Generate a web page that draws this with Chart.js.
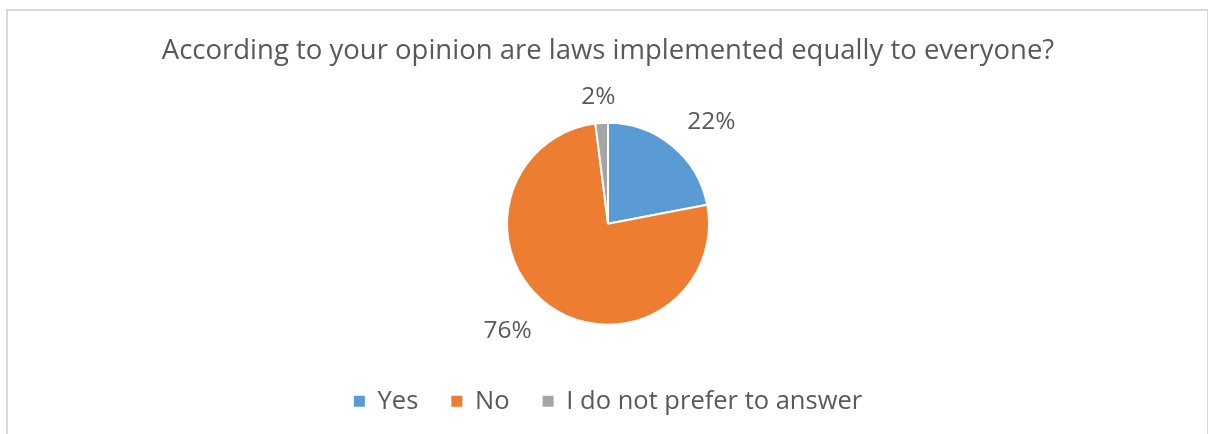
<!DOCTYPE html>
<html>
<head>
<meta charset="utf-8">
<style>
  html, body { margin: 0; padding: 0; background: #ffffff; }
  #wrap { position: relative; width: 1208px; height: 434px; }
</style>
<script src="https://cdn.jsdelivr.net/npm/chart.js@4/dist/chart.umd.min.js"></script>
</head>
<body>
<div id="wrap"><canvas id="pie"></canvas></div>
<script>
// Survey answers
const chartTitle = 'According to your opinion are laws implemented equally to everyone?';
const categories = ['Yes', 'No', 'I do not prefer to answer'];
const shares = [22, 76, 2];
const sliceColors = ['#5B9BD5', '#ED7D31', '#A5A5A5'];

const FONT = "'Open Sans', 'Noto Sans', sans-serif";
const TEXT_COLOR = '#595959';

// Light grey frame around the whole chart
const framePlugin = {
  id: 'frame',
  beforeDraw(chart) {
    const ctx = chart.ctx;
    ctx.save();
    ctx.fillStyle = '#ffffff';
    ctx.fillRect(0, 0, chart.width, chart.height);
    ctx.strokeStyle = '#D9D9D9';
    ctx.lineWidth = 2;
    ctx.strokeRect(7, 10, chart.width - 7, chart.height + 20);
    ctx.restore();
  }
};

// Percentage labels placed outside each slice
const sliceLabelPlugin = {
  id: 'sliceLabels',
  afterDatasetsDraw(chart, args, opts) {
    const ctx = chart.ctx;
    const meta = chart.getDatasetMeta(0);
    const values = chart.data.datasets[0].data;
    ctx.save();
    ctx.font = opts.font;
    ctx.fillStyle = opts.color;
    ctx.textAlign = 'center';
    ctx.textBaseline = 'middle';
    meta.data.forEach((arc, i) => {
      const p = arc.getProps(['x', 'y', 'startAngle', 'endAngle', 'outerRadius'], true);
      const mid = (p.startAngle + p.endAngle) / 2;
      const d = p.outerRadius + opts.gap;
      const nudge = opts.nudges[i] || [0, 0];
      const x = p.x + Math.cos(mid) * d + nudge[0];
      const y = p.y + Math.sin(mid) * d + nudge[1];
      ctx.fillText(values[i] + '%', x, y);
    });
    ctx.restore();
  }
};

new Chart(document.getElementById('pie'), {
  type: 'pie',
  data: {
    labels: categories,
    datasets: [{
      data: shares,
      backgroundColor: sliceColors,
      borderColor: '#ffffff',
      borderWidth: 2,
      radius: 101
    }]
  },
  plugins: [framePlugin, sliceLabelPlugin],
  options: {
    responsive: true,
    maintainAspectRatio: false,
    animation: false,
    layout: { padding: { top: 10, bottom: 10, left: 16, right: 8 } },
    plugins: {
      title: {
        display: true,
        text: chartTitle,
        color: TEXT_COLOR,
        font: { family: FONT, size: 27.5, weight: 'normal' },
        padding: { top: 25, bottom: 24 }
      },
      legend: {
        display: true,
        position: 'bottom',
        labels: {
          color: TEXT_COLOR,
          font: { family: FONT, size: 25.5 },
          boxWidth: 11,
          boxHeight: 11,
          padding: 33,
          generateLabels(chart) {
            const ds = chart.data.datasets[0];
            return chart.data.labels.map((text, i) => ({
              text,
              fillStyle: ds.backgroundColor[i],
              strokeStyle: ds.backgroundColor[i],
              lineWidth: 0,
              fontColor: TEXT_COLOR,
              hidden: false,
              index: i
            }));
          }
        }
      },
      tooltip: { enabled: false },
      sliceLabels: {
        font: "24.5px " + FONT,
        color: TEXT_COLOR,
        gap: 22,
        nudges: [[25, -7], [-28, 8], [-2, -4]]
      }
    }
  }
});
</script>
</body>
</html>
